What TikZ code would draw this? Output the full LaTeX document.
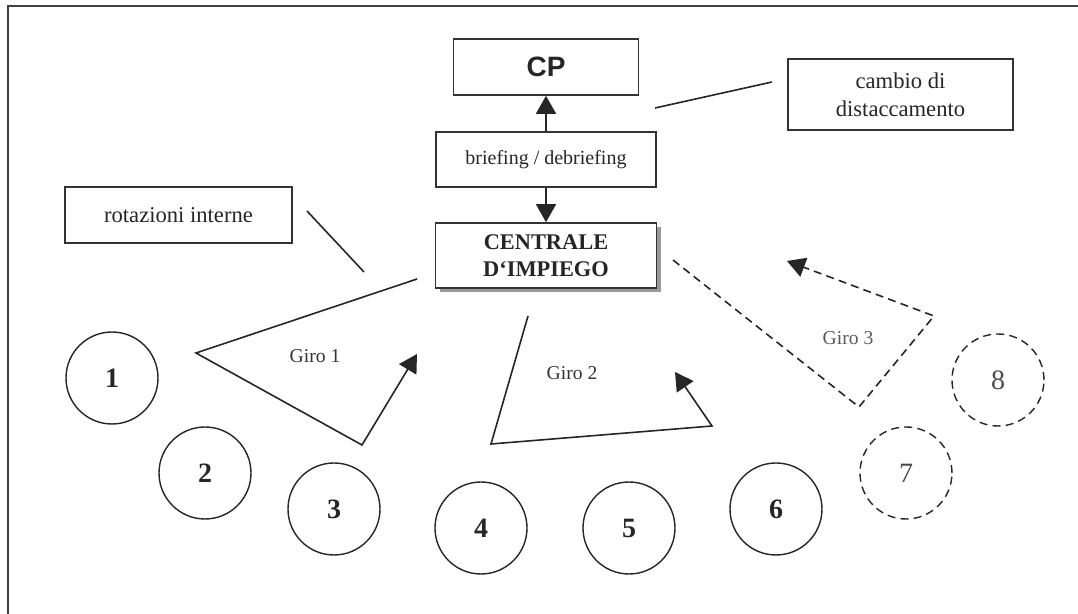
\documentclass[tikz,border=0pt]{standalone}
\usepackage{fontspec}
\setmainfont{Liberation Serif}
\newfontfamily\cpfont{Liberation Sans}
\usetikzlibrary{arrows.meta,shadows}

\tikzset{
  box/.style={draw=black!80, line width=0.8pt, fill=white, align=center, inner sep=0pt, text=black!85},
  post/.style={circle, draw=black!85, line width=0.7pt, minimum size=46pt, inner sep=0pt,
    text=black!85, font=\bfseries\fontsize{14}{16}\selectfont},
  newpost/.style={post, dash pattern=on 4pt off 2.6pt, text=black!70, font=\fontsize{14}{16}\selectfont},
  giro/.style={line width=0.8pt, draw=black!85},
  girolabel/.style={text=black!80, font=\fontsize{9.8}{12}\selectfont},
  tip/.style={-{Triangle[length=9pt,width=10pt]}},
}

\begin{document}
\begin{tikzpicture}[x=0.5pt,y=-0.5pt]
        \useasboundingbox (0,0) rectangle (1078,614);
        \draw[line width=1pt, black!75] (1078,6) -- (8,6) -- (8,614);

        % boxes
        \node[box, minimum width=92.5pt, minimum height=28pt,
          font=\cpfont\bfseries\fontsize{14}{16}\selectfont] (cp) at (546,67) {CP};
        \node[box, minimum width=110pt, minimum height=27.5pt,
          font=\fontsize{10}{12}\selectfont] (briefing) at (546,159.5) {briefing / debriefing};
        \node[box, minimum width=110.5pt, minimum height=32.5pt,
          drop shadow={shadow xshift=2.2pt, shadow yshift=-2.2pt, fill=black!40, opacity=1},
          font=\bfseries\fontsize{11.2}{13.5}\selectfont] (centrale) at (546,255.5) {CENTRALE\\D‘IMPIEGO};
        \node[box, minimum width=112.5pt, minimum height=35.5pt,
          font=\fontsize{11.3}{14}\selectfont] (cambio) at (900.5,94.5) {cambio di\\distaccamento};
        \node[box, minimum width=113.5pt, minimum height=28pt,
          font=\fontsize{11.3}{14}\selectfont] (rotazioni) at (178.5,215) {rotazioni interne};

        \draw[giro, tip] (briefing) -- (cp);
        \draw[giro, tip] (briefing) -- (centrale);

        \coordinate (cambioA) at (655,108);
        \coordinate (cambioB) at (772,82);
        \draw[giro] (cambioA) -- (cambioB);
        \coordinate (rotA) at (307,211);
        \coordinate (rotB) at (364,272);
        \draw[giro] (rotA) -- (rotB);

        % posts
        \node[post] (p1) at (112,378) {1};
        \node[post] (p2) at (205,473) {2};
        \node[post] (p3) at (334,509) {3};
        \node[post] (p4) at (481,528) {4};
        \node[post] (p5) at (629,528) {5};
        \node[post] (p6) at (776,509) {6};
        \node[newpost] (p7) at (906,473) {7};
        \node[newpost] (p8) at (998,380) {8};

        % giro 1
        \coordinate (g1a) at (417,279);
        \coordinate (g1b) at (196,353);
        \coordinate (g1c) at (362,445);
        \coordinate (g1d) at (417,354);
        \draw[giro, tip] (g1a) -- (g1b) -- (g1c) -- (g1d);
        \node[girolabel] (giro1) at (315,356) {Giro 1};

        % giro 2
        \coordinate (g2a) at (528,316);
        \coordinate (g2b) at (491,444);
        \coordinate (g2c) at (712,426);
        \coordinate (g2d) at (675,372);
        \draw[giro, tip] (g2a) -- (g2b) -- (g2c) -- (g2d);
        \node[girolabel] (giro2) at (572,373) {Giro 2};

        % giro 3
        \coordinate (g3a) at (673,260);
        \coordinate (g3b) at (859,407);
        \coordinate (g3c) at (934,316);
        \coordinate (g3d) at (787,261);
        \draw[giro, tip, dash pattern=on 4pt off 2.6pt] (g3a) -- (g3b) -- (g3c) -- (g3d);
        \node[girolabel, text=black!65] (giro3) at (848,338) {Giro 3};
\end{tikzpicture}
\end{document}
